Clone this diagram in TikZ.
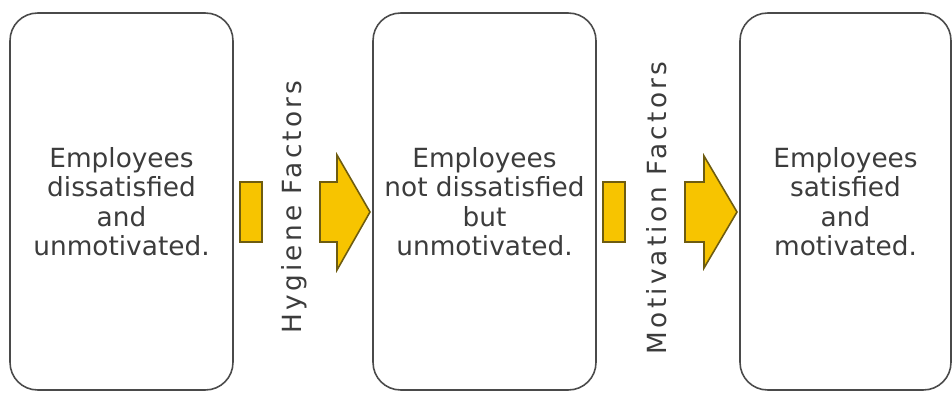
\documentclass[tikz,border=0pt]{standalone}
\usepackage{fontspec}
\setmainfont{DejaVu Sans}
\newfontfamily\factorfont[LetterSpace=12]{DejaVu Sans}
\usetikzlibrary{calc}
\definecolor{boxline}{HTML}{4A4A4A}
\definecolor{inktext}{HTML}{3C3C3C}
\definecolor{arrowfill}{HTML}{F7C400}
\definecolor{arrowline}{HTML}{6E5C10}
\tikzset{
    stagebox/.style={draw=boxline, line width=0.9pt, rounded corners=0.55cm,
        align=center, text=inktext, inner sep=0pt,
        font=\fontsize{15}{16.8}\selectfont, minimum height=7.54cm},
    factorlabel/.style={rotate=90, text=inktext, inner sep=0pt,
        font=\fontsize{15}{18}\selectfont\factorfont},
    blockarrow/.style={fill=arrowfill, draw=arrowline, line width=0.9pt, line join=miter}
}
\begin{document}
\begin{tikzpicture}[x=0.02cm, y=-0.02cm]
    \useasboundingbox (0,0) rectangle (952,394);
    %
    \node[stagebox, minimum width=4.46cm] (dissat) at (121.5,201.5)
        {Employees\\dissatisfied\\and\\unmotivated.};
    \node[stagebox, minimum width=4.46cm] (neutral) at (484.5,201.5)
        {Employees\\not dissatisfied\\but\\unmotivated.};
    \node[stagebox, minimum width=4.22cm] (sat) at (845.5,201.5)
        {Employees\\satisfied\\and\\motivated.};

    %
    \coordinate (H) at (240,212);
    \coordinate (M) at (603,212);

    %
    \draw[blockarrow] ($(H)+(0,-30)$) rectangle ($(H)+(22,30)$);
    \draw[blockarrow] ($(H)+(80,-30)$) -- ++(17,0) -- ++(0,-27)
        -- ($(H)+(130,0)$) -- ($(H)+(97,58)$) -- ++(0,-28) -- ++(-17,0) -- cycle;

    %
    \draw[blockarrow] ($(M)+(0,-30)$) rectangle ($(M)+(22,30)$);
    \draw[blockarrow] ($(M)+(82,-30)$) -- ++(19,0) -- ++(0,-26)
        -- ($(M)+(134,0)$) -- ($(M)+(101,56)$) -- ++(0,-26) -- ++(-19,0) -- cycle;

    %
    \node[factorlabel] (hyg) at (294,207) {Hygiene Factors};
    \node[factorlabel] (mot) at (657,208) {Motivation Factors};

\end{tikzpicture}
\end{document}
